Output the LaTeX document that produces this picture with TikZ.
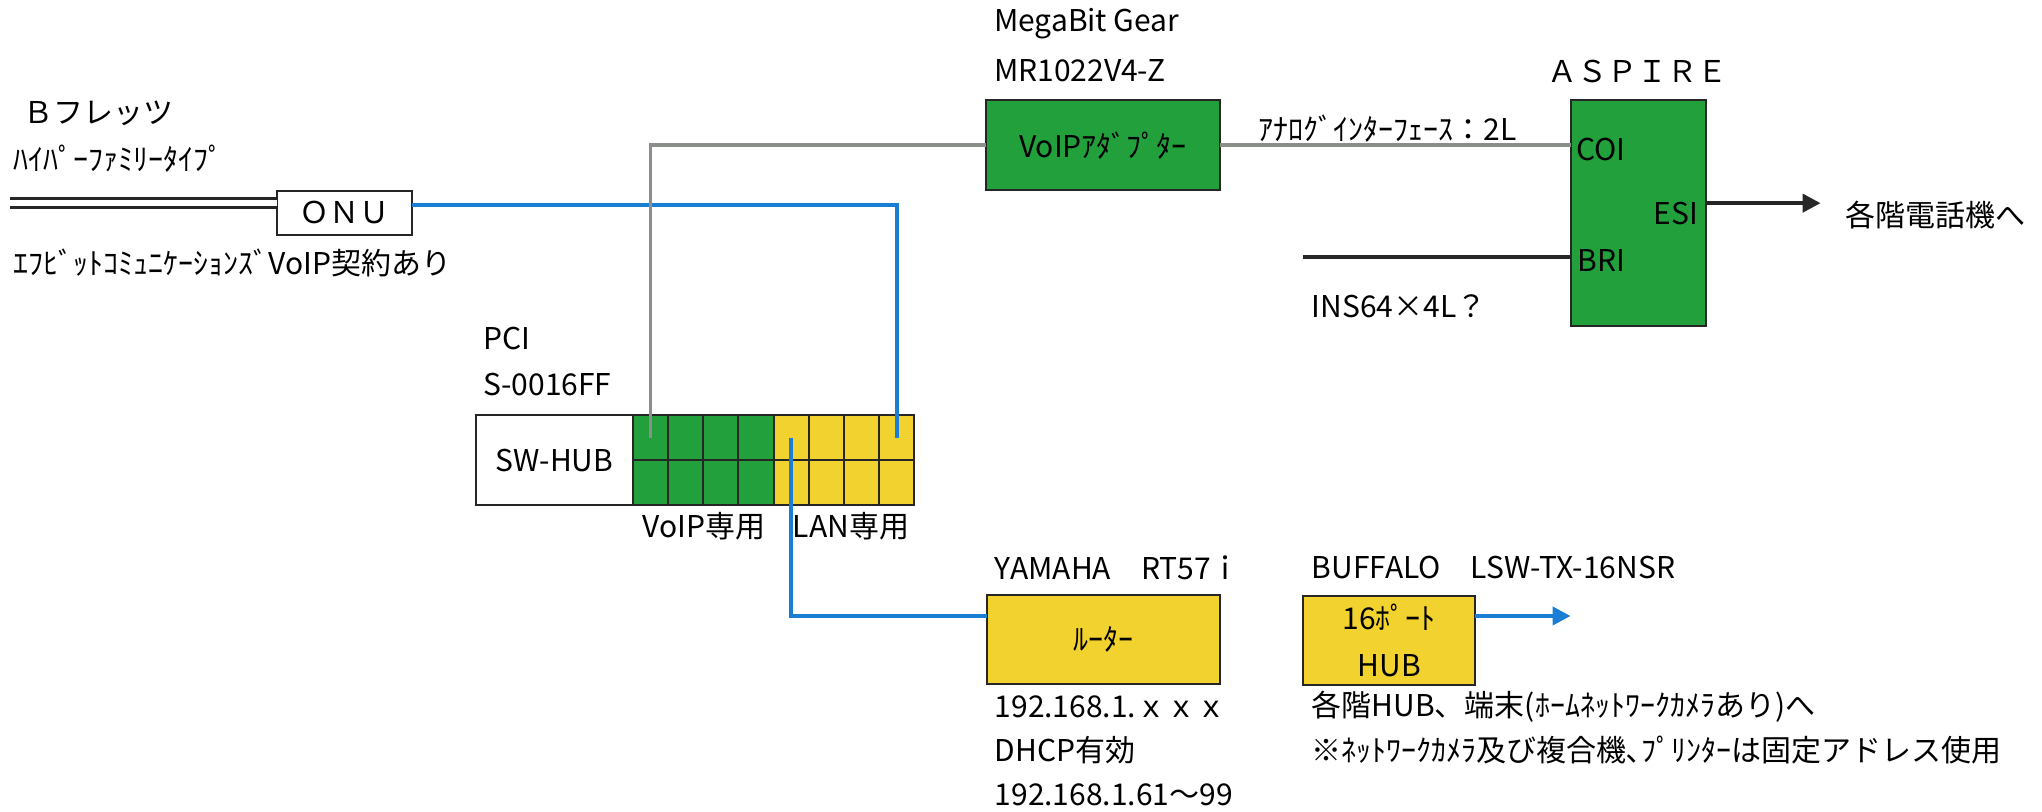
\documentclass[tikz,border=0pt]{standalone}
\usepackage{fontspec}
\setmainfont{Noto Sans CJK JP}
\usetikzlibrary{positioning,arrows.meta,calc}
\definecolor{boxgreen}{HTML}{22A03C}
\definecolor{boxyellow}{HTML}{F2D22E}
\definecolor{lanblue}{HTML}{1A7FD4}
\definecolor{telgray}{HTML}{8A8F8A}

\begin{document}
\begin{tikzpicture}[
  x=0.6512pt, y=-0.6512pt,
  font=\fontsize{15}{18}\selectfont,
  box/.style={rectangle, draw=black!85, line width=1pt, inner sep=0pt, outer sep=0pt, align=center},
  greenbox/.style={box, fill=boxgreen},
  yellowbox/.style={box, fill=boxyellow},
  port/.style={box, minimum width=17.58pt, minimum height=22.5pt},
  lbl/.style={anchor=west, inner sep=0pt},
  lan/.style={lanblue, line width=2pt},
  tel/.style={telgray, line width=1.8pt},
  wire/.style={black!85, line width=2pt},
  tip/.style={-{Triangle[length=9pt,width=9pt]}}
]
\useasboundingbox (0,0) rectangle (1568,623);
% line side
\node[lbl] (flets) at (18,87) {Ｂフレッツ};
\node[lbl] (hyper) at (10,122) {ﾊｲﾊﾟｰﾌｧﾐﾘｰﾀｲﾌﾟ};
\node[box, fill=white, minimum width=67.4pt, minimum height=22.2pt] (onu) at (264.3,163.5) {ＯＮＵ};
\node[lbl] (fbit) at (10,202) {ｴﾌﾋﾞｯﾄｺﾐｭﾆｹｰｼｮﾝｽﾞVoIP契約あり};
\coordinate (fiber) at (8,156);
\coordinate (onuport) at ($(onu.east)+(0,-5.8)$);
% switching hub
\node[lbl] (pci) at (370.6,259.7) {PCI};
\node[lbl] (pcimodel) at (370.6,295.6) {S-0016FF};
\node[box, fill=white, minimum width=78.5pt, minimum height=45pt] (swhub) at (425.8,353.3) {SW-HUB};
\foreach \i in {1,...,4} {
  \node[port, fill=boxgreen] (p\i) at ({472.5+27*\i},336) {};
  \node[port, fill=boxgreen] (q\i) at ({472.5+27*\i},370.6) {};
}
\foreach \i in {5,...,8} {
  \node[port, fill=boxyellow] (p\i) at ({472.5+27*\i},336) {};
  \node[port, fill=boxyellow] (q\i) at ({472.5+27*\i},370.6) {};
}
\node (voiponly) at (540.5,404) {VoIP専用};
\node (lanonly) at (653.5,404) {LAN専用};
% phone side
\node[lbl] (mbg) at (763,18) {MegaBit Gear};
\node[lbl] (mbgmodel) at (763,54) {MR1022V4-Z};
\node[greenbox, minimum width=117.2pt, minimum height=44.9pt] (voip) at (847,111.5) {VoIPｱﾀﾞﾌﾟﾀｰ};
\node[lbl] (analog) at (966,98.6) {ｱﾅﾛｸﾞｲﾝﾀｰﾌｪｰｽ：2L};
\node (aspname) at (1257.5,55) {ＡＳＰＩＲＥ};
\node[greenbox, minimum width=67.7pt, minimum height=112.7pt] (aspire) at (1258,163.5) {};
\node[lbl] (coi) at (1210,115) {COI};
\node[anchor=east, inner sep=0pt] (esi) at (1304,163.7) {ESI};
\node[lbl] (bri) at (1211,199.7) {BRI};
\node[lbl] (phones) at (1417,165) {各階電話機へ};
\node[lbl] (ins) at (1007,235) {INS64×4L？};
\coordinate (phoneend) at (1398,156);
\coordinate (isdn) at (1000.6,197);
% lan side
\node[lbl] (rtname) at (763.5,436) {YAMAHA　RT57ｉ};
\node[yellowbox, minimum width=116.6pt, minimum height=44.3pt] (router) at (847.5,491) {ﾙｰﾀｰ};
\node[lbl] (rtip) at (763.5,543) {192.168.1.ｘｘｘ};
\node[lbl] (rtdhcp) at (763.5,576) {DHCP有効};
\node[lbl] (rtpool) at (763.5,610) {192.168.1.61～99};
\node[lbl] (hubname) at (1007,436) {BUFFALO　LSW-TX-16NSR};
\node[yellowbox, minimum width=86.2pt, minimum height=44.6pt, font=\fontsize{15}{23.4}\selectfont] (hub) at (1066.8,491.8) {16ﾎﾟｰﾄ\\HUB};
\node[lbl] (floors) at (1007,543) {各階HUB、端末(ﾎｰﾑﾈｯﾄﾜｰｸｶﾒﾗあり)へ};
\node[lbl] (fixed) at (1007,576) {※ﾈｯﾄﾜｰｸｶﾒﾗ及び複合機､ﾌﾟﾘﾝﾀｰは固定アドレス使用};
\coordinate (lanend) at (1206,473);
% connections
\draw[wire, line width=1.5pt, double=white, double distance=3.3pt] (fiber) -- (fiber -| onu.west);
\draw[lan] (onuport) -| (p8.center);
\draw[tel] (p1.center) |- (voip.west);
\draw[tel] (voip.east) -- (voip.east -| aspire.west);
\draw[wire, tip] (phoneend -| aspire.east) -- (phoneend);
\draw[wire] (isdn) -- (isdn -| aspire.west);
\draw[lan] (p5.center) |- ($(router.west)+(0,-18)$);
\draw[lan] ($(router.east)+(0,-18)$) -- ($(router.east)+(0,-18)$ -| hub.west);
\draw[lan, tip] ($(hub.east)+(0,-18.8)$) -- (lanend);
\end{tikzpicture}
\end{document}
